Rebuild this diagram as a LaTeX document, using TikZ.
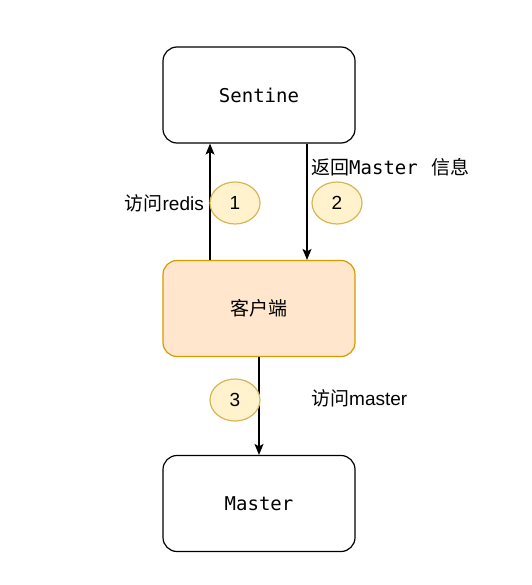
\documentclass[tikz,border=0pt]{standalone}
\usepackage{fontspec}
\setmainfont{Liberation Sans}
\setmonofont{DejaVu Sans Mono}
\newfontfamily\cjk{Noto Sans CJK SC}
\usetikzlibrary{shapes.geometric,arrows.meta}
\definecolor{clientfill}{HTML}{FFE6CC}
\definecolor{clientdraw}{HTML}{D79B00}
\definecolor{numfill}{HTML}{FFF2CC}
\definecolor{numdraw}{HTML}{D6B656}
\tikzset{
  box/.style={draw=black, line width=1.2pt, rounded corners=14pt, minimum width=192pt, minimum height=96pt, fill=white, font=\fontsize{19}{23}\selectfont},
  client/.style={box, draw=clientdraw, fill=clientfill},
  numbadge/.style={ellipse, draw=numdraw, fill=numfill, line width=1.2pt, minimum width=50pt, minimum height=42pt, inner sep=0pt, font=\fontsize{19}{23}\selectfont},
  lbl/.style={inner sep=0pt, font=\fontsize{19}{23}\selectfont},
  arr/.style={line width=1.2pt, -{Stealth[length=11pt,width=9pt,inset=2.5pt]}}
}
\begin{document}
\begin{tikzpicture}[x=1pt,y=1pt]
\useasboundingbox[fill=white] (0,0) rectangle (531,-585);
\node[box] (s) at (259,-95) {\ttfamily Sentine};
\node[client] (c) at (259,-308.5) {\cjk 客户端};
\node[box] (m) at (259,-503.5) {\ttfamily Master};
\draw[arr] ([xshift=-49pt]c.north) -- ([xshift=-49pt]s.south);
\draw[arr] ([xshift=48pt]s.south) -- ([xshift=48pt]c.north);
\draw[arr] (c.south) -- (m.north);
\node[numbadge] (n1) at (235,-203) {1};
\node[numbadge] (n2) at (337,-203) {2};
\node[numbadge] (n3) at (235,-400) {3};
\node[lbl, anchor=east] (l1) at (204,-203) {{\cjk 访问}redis};
\node[lbl, anchor=west] (l2) at (311,-167) {{\cjk 返回}{\ttfamily Master\ }\hspace{2pt}{\cjk 信息}};
\node[lbl, anchor=west] (l3) at (311,-398) {{\cjk 访问}master};
\end{tikzpicture}
\end{document}
